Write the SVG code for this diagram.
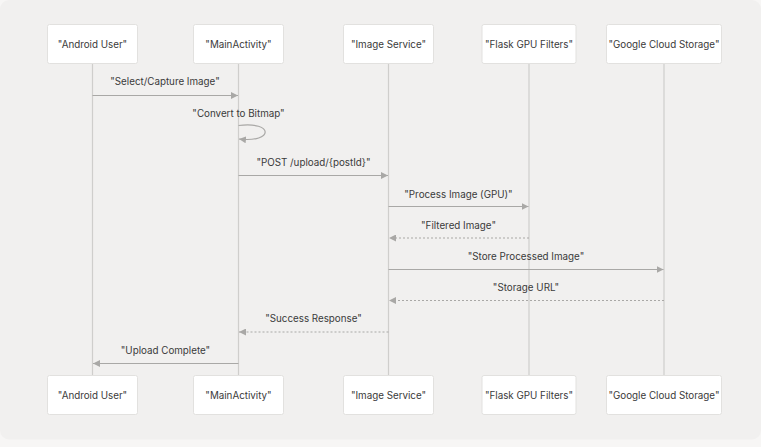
<svg xmlns="http://www.w3.org/2000/svg" width="761" height="447" viewBox="0 0 761 447">
<defs>
<style>
.bg{fill:#f7f6f5}
.panel{fill:#f1f0ef}
.box{fill:#ffffff;stroke:#e2e1df;stroke-width:1}
.life{stroke:#cfcecc;stroke-width:1.2;fill:none}
.msg{stroke:#a9a8a6;stroke-width:1.2;fill:none}
.dash{stroke-dasharray:2,2}
text{font-family:Inter,"Noto Sans","Liberation Sans",sans-serif;font-size:9.8px;fill:#3a3a3a;text-anchor:middle}
</style>
<marker id="ah" viewBox="0 0 10 10" refX="10" refY="5" markerWidth="7" markerHeight="7" markerUnits="userSpaceOnUse" orient="auto">
<path d="M0,0 L10,5 L0,10 z" fill="#a9a8a6"/>
</marker>
</defs>
<rect class="bg" x="0" y="0" width="761" height="447"/>
<rect class="panel" x="0" y="0" width="761" height="439.5" rx="9"/>
<g id="lifelines">
<line class="life" x1="92.5" y1="63.5" x2="92.5" y2="375.5"/>
<line class="life" x1="238.5" y1="63.5" x2="238.5" y2="375.5"/>
<line class="life" x1="388.5" y1="63.5" x2="388.5" y2="375.5"/>
<line class="life" x1="529" y1="63.5" x2="529" y2="375.5"/>
<line class="life" x1="664" y1="63.5" x2="664" y2="375.5"/>
</g>
<g id="android-user">
<rect class="box" x="47.5" y="24.5" width="90" height="39" rx="2"/>
<text x="92.5" y="47.5">"Android User"</text>
<rect class="box" x="47.5" y="375.5" width="90" height="39" rx="2"/>
<text x="92.5" y="398.5">"Android User"</text>
</g>
<g id="main-activity">
<rect class="box" x="193.5" y="24.5" width="90" height="39" rx="2"/>
<text x="238.5" y="47.5">"MainActivity"</text>
<rect class="box" x="193.5" y="375.5" width="90" height="39" rx="2"/>
<text x="238.5" y="398.5">"MainActivity"</text>
</g>
<g id="image-service">
<rect class="box" x="343.5" y="24.5" width="90" height="39" rx="2"/>
<text x="388.5" y="47.5">"Image Service"</text>
<rect class="box" x="343.5" y="375.5" width="90" height="39" rx="2"/>
<text x="388.5" y="398.5">"Image Service"</text>
</g>
<g id="flask-gpu-filters">
<rect class="box" x="482" y="24.5" width="94" height="39" rx="2"/>
<text x="529" y="47.5">"Flask GPU Filters"</text>
<rect class="box" x="482" y="375.5" width="94" height="39" rx="2"/>
<text x="529" y="398.5">"Flask GPU Filters"</text>
</g>
<g id="google-cloud-storage">
<rect class="box" x="606.5" y="24.5" width="115" height="39" rx="2"/>
<text x="664" y="47.5">"Google Cloud Storage"</text>
<rect class="box" x="606.5" y="375.5" width="115" height="39" rx="2"/>
<text x="664" y="398.5">"Google Cloud Storage"</text>
</g>
<g id="connectors">
<line class="msg" x1="92.5" y1="95.5" x2="238" y2="95.5" marker-end="url(#ah)"/>
<text x="165" y="85">"Select/Capture Image"</text>
<path class="msg" d="M238.5,125.5 C274,121 274,143 239,139" marker-end="url(#ah)"/>
<text x="238.5" y="116.5">"Convert to Bitmap"</text>
<line class="msg" x1="238.5" y1="175.5" x2="388" y2="175.5" marker-end="url(#ah)"/>
<text x="313.5" y="166">"POST /upload/{postId}"</text>
<line class="msg" x1="388.5" y1="206.5" x2="528.5" y2="206.5" marker-end="url(#ah)"/>
<text x="458.5" y="197.5">"Process Image (GPU)"</text>
<line class="msg dash" x1="529" y1="238" x2="389" y2="238" marker-end="url(#ah)"/>
<text x="458.5" y="228.5">"Filtered Image"</text>
<line class="msg" x1="388.5" y1="269.5" x2="663.5" y2="269.5" marker-end="url(#ah)"/>
<text x="526" y="260">"Store Processed Image"</text>
<line class="msg dash" x1="664" y1="300.5" x2="389" y2="300.5" marker-end="url(#ah)"/>
<text x="526" y="291">"Storage URL"</text>
<line class="msg dash" x1="388.5" y1="332" x2="239" y2="332" marker-end="url(#ah)"/>
<text x="313.5" y="322">"Success Response"</text>
<line class="msg" x1="238.5" y1="363.5" x2="93" y2="363.5" marker-end="url(#ah)"/>
<text x="165.5" y="353.5">"Upload Complete"</text>
</g>
</svg>
